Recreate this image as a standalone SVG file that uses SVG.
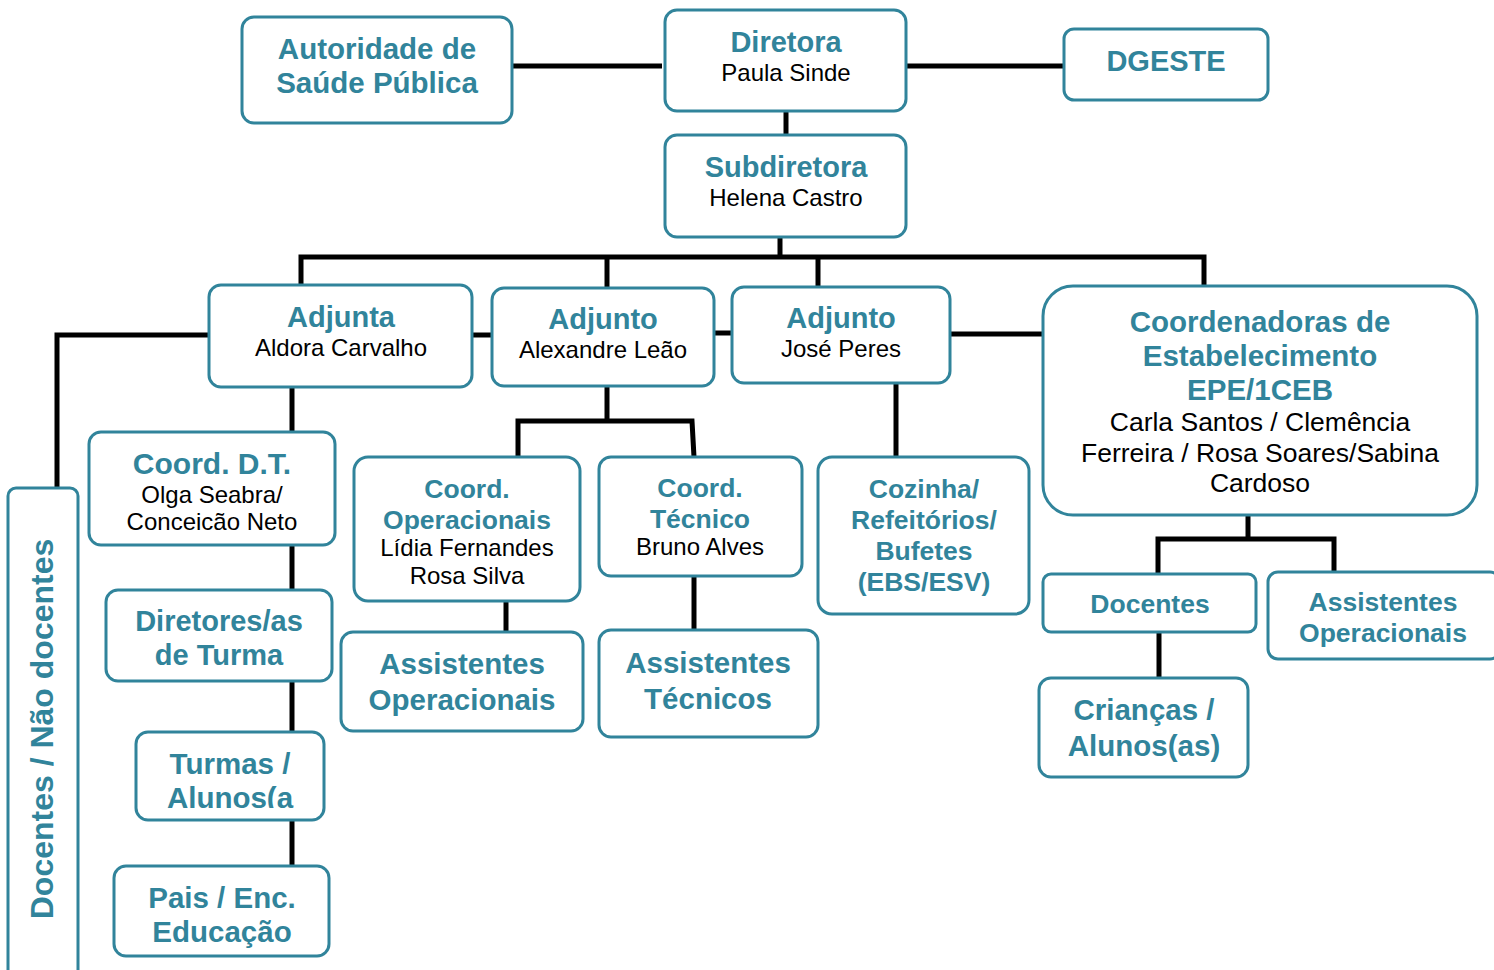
<svg xmlns="http://www.w3.org/2000/svg" width="1494" height="970" viewBox="0 0 1494 970">
<style>
.box{fill:#fff;stroke:#31849B;stroke-width:3}
.t{font-family:"Liberation Sans",Arial,sans-serif;font-weight:bold;fill:#31849B;text-anchor:middle}
.n{font-family:"Liberation Sans",Arial,sans-serif;fill:#000;text-anchor:middle}
.c{stroke:#000;stroke-width:5;fill:none}
</style>
<defs>
<clipPath id="clipTurmas"><rect x="136" y="732" width="188" height="76"/></clipPath>
</defs>
<rect width="1494" height="970" fill="#fff"/>
<g id="connectors">
<path class="c" d="M512 66H662"/>
<path class="c" d="M906 66H1064"/>
<path class="c" d="M786 111V135"/>
<path class="c" d="M780 237V257"/>
<path class="c" d="M301 285V257H1204V286"/>
<path class="c" d="M607 257V288"/>
<path class="c" d="M818 257V287"/>
<path class="c" d="M472 335H492"/>
<path class="c" d="M714 333H732"/>
<path class="c" d="M950 334H1043"/>
<path class="c" d="M209 335H57V488"/>
<path class="c" d="M292 387V432"/>
<path class="c" d="M292 545V590"/>
<path class="c" d="M292 681V732"/>
<path class="c" d="M292 820V866"/>
<path class="c" d="M607 386V421"/>
<path class="c" d="M518 457V421H692L694 457"/>
<path class="c" d="M506 601V632"/>
<path class="c" d="M694 576V630"/>
<path class="c" d="M896 383V457"/>
<path class="c" d="M1248 515V539"/>
<path class="c" d="M1158 574V539H1334V572"/>
<path class="c" d="M1159 632V678"/>
</g>
<g id="autoridade">
<rect class="box" x="242" y="17" width="270" height="106" rx="12"/>
<text class="t" x="377" y="59" font-size="29.5">Autoridade de</text>
<text class="t" x="377" y="93" font-size="29.5">Saúde Pública</text>
</g>
<g id="diretora">
<rect class="box" x="665" y="10" width="241" height="101" rx="12"/>
<text class="t" x="786" y="52" font-size="29">Diretora</text>
<text class="n" x="786" y="81" font-size="24">Paula Sinde</text>
</g>
<g id="dgeste">
<rect class="box" x="1064" y="29" width="204" height="71" rx="10"/>
<text class="t" x="1166" y="71" font-size="29">DGESTE</text>
</g>
<g id="subdiretora">
<rect class="box" x="665" y="135" width="241" height="102" rx="12"/>
<text class="t" x="786" y="177" font-size="29">Subdiretora</text>
<text class="n" x="786" y="206" font-size="24">Helena Castro</text>
</g>
<g id="adjunta">
<rect class="box" x="209" y="285" width="263" height="102" rx="12"/>
<text class="t" x="341" y="327" font-size="29">Adjunta</text>
<text class="n" x="341" y="356" font-size="24">Aldora Carvalho</text>
</g>
<g id="adjunto-alexandre">
<rect class="box" x="492" y="288" width="222" height="98" rx="12"/>
<text class="t" x="603" y="329" font-size="29">Adjunto</text>
<text class="n" x="603" y="358" font-size="24">Alexandre Leão</text>
</g>
<g id="adjunto-jose">
<rect class="box" x="732" y="287" width="218" height="96" rx="12"/>
<text class="t" x="841" y="328" font-size="29">Adjunto</text>
<text class="n" x="841" y="357" font-size="24">José Peres</text>
</g>
<g id="coordenadoras">
<rect class="box" x="1043" y="286" width="434" height="229" rx="30"/>
<text class="t" x="1260" y="332" font-size="29.5">Coordenadoras de</text>
<text class="t" x="1260" y="366" font-size="29.5">Estabelecimento</text>
<text class="t" x="1260" y="400" font-size="29.5">EPE/1CEB</text>
<text class="n" x="1260" y="431" font-size="26.5">Carla Santos / Clemência</text>
<text class="n" x="1260" y="462" font-size="26.5">Ferreira / Rosa Soares/Sabina</text>
<text class="n" x="1260" y="492" font-size="26.5">Cardoso</text>
</g>
<g id="coord-dt">
<rect class="box" x="89" y="432" width="246" height="113" rx="12"/>
<text class="t" x="212" y="474" font-size="30">Coord. D.T.</text>
<text class="n" x="212" y="503" font-size="24">Olga Seabra/</text>
<text class="n" x="212" y="530" font-size="24">Conceicão Neto</text>
</g>
<g id="coord-operacionais">
<rect class="box" x="354" y="457" width="226" height="144" rx="14"/>
<text class="t" x="467" y="498" font-size="26.5">Coord.</text>
<text class="t" x="467" y="529" font-size="26.5">Operacionais</text>
<text class="n" x="467" y="556" font-size="24">Lídia Fernandes</text>
<text class="n" x="467" y="584" font-size="24">Rosa Silva</text>
</g>
<g id="coord-tecnico">
<rect class="box" x="599" y="457" width="203" height="119" rx="12"/>
<text class="t" x="700" y="497" font-size="26.5">Coord.</text>
<text class="t" x="700" y="528" font-size="26.5">Técnico</text>
<text class="n" x="700" y="555" font-size="24">Bruno Alves</text>
</g>
<g id="cozinha">
<rect class="box" x="818" y="457" width="211" height="157" rx="14"/>
<text class="t" x="924" y="498" font-size="26.5">Cozinha/</text>
<text class="t" x="924" y="529" font-size="26.5">Refeitórios/</text>
<text class="t" x="924" y="560" font-size="26.5">Bufetes</text>
<text class="t" x="924" y="591" font-size="26.5">(EBS/ESV)</text>
</g>
<g id="docentes-nao-docentes">
<rect class="box" x="8" y="488" width="70" height="500" rx="8"/>
<text class="t" transform="translate(53,729) rotate(-90)" font-size="32">Docentes / Não docentes</text>
</g>
<g id="diretores-turma">
<rect class="box" x="106" y="590" width="226" height="91" rx="12"/>
<text class="t" x="219" y="631" font-size="29">Diretores/as</text>
<text class="t" x="219" y="665" font-size="29">de Turma</text>
</g>
<g id="assistentes-operacionais">
<rect class="box" x="341" y="632" width="242" height="99" rx="12"/>
<text class="t" x="462" y="674" font-size="29.5">Assistentes</text>
<text class="t" x="462" y="710" font-size="29.5">Operacionais</text>
</g>
<g id="assistentes-tecnicos">
<rect class="box" x="599" y="630" width="219" height="107" rx="12"/>
<text class="t" x="708" y="673" font-size="29.5">Assistentes</text>
<text class="t" x="708" y="709" font-size="29.5">Técnicos</text>
</g>
<g id="turmas">
<rect class="box" x="136" y="732" width="188" height="88" rx="12"/>
<text class="t" x="230" y="774" font-size="29.5">Turmas /</text>
<text class="t" x="230" y="808" font-size="29.5" clip-path="url(#clipTurmas)">Alunos(a</text>
</g>
<g id="pais">
<rect class="box" x="114" y="866" width="215" height="90" rx="12"/>
<text class="t" x="222" y="908" font-size="29.5">Pais / Enc.</text>
<text class="t" x="222" y="942" font-size="29.5">Educação</text>
</g>
<g id="docentes">
<rect class="box" x="1043" y="574" width="213" height="58" rx="8"/>
<text class="t" x="1150" y="613" font-size="26.5">Docentes</text>
</g>
<g id="assistentes-operacionais-epe">
<rect class="box" x="1268" y="572" width="232" height="87" rx="10"/>
<text class="t" x="1383" y="611" font-size="26.5">Assistentes</text>
<text class="t" x="1383" y="642" font-size="26.5">Operacionais</text>
</g>
<g id="criancas">
<rect class="box" x="1039" y="678" width="209" height="99" rx="12"/>
<text class="t" x="1144" y="720" font-size="29.5">Crianças /</text>
<text class="t" x="1144" y="756" font-size="29.5">Alunos(as)</text>
</g>
</svg>
